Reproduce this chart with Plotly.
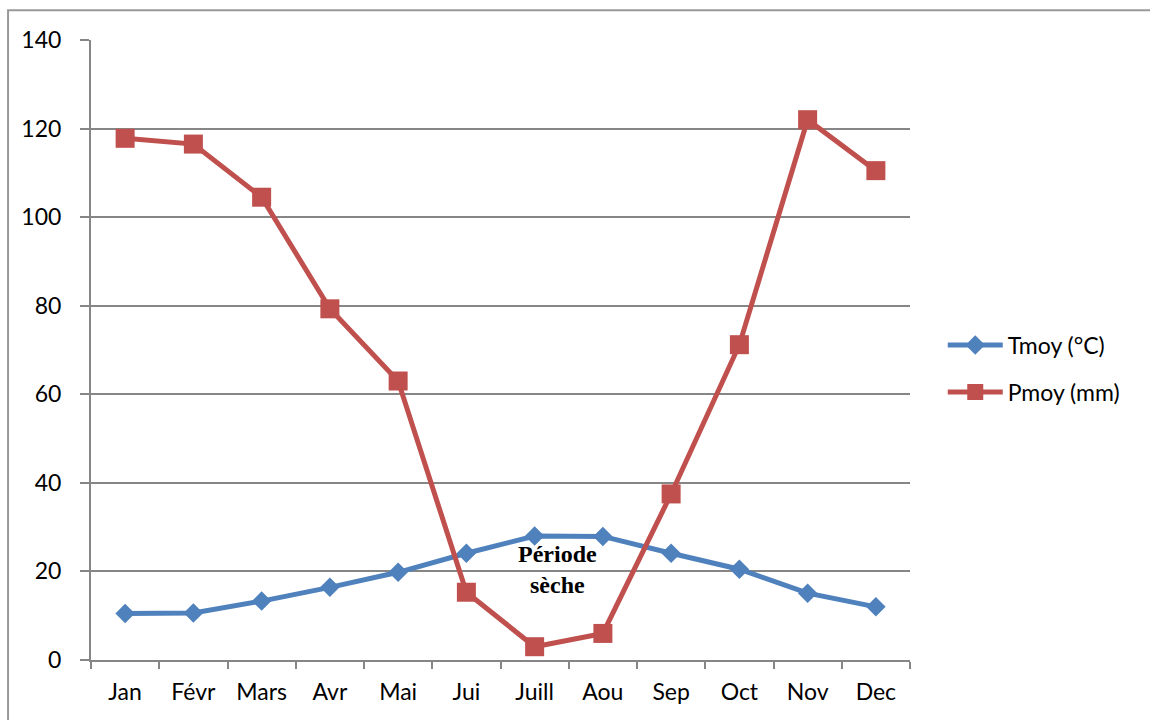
import plotly.graph_objects as go

months = ["Jan", "Févr", "Mars", "Avr", "Mai", "Jui", "Juill", "Aou", "Sep", "Oct", "Nov", "Dec"]
tmoy = [10.5, 10.6, 13.3, 16.4, 19.8, 24.1, 28.0, 27.9, 24.1, 20.5, 15.1, 12.0]
pmoy = [117.8, 116.5, 104.5, 79.3, 63.0, 15.3, 3.0, 6.0, 37.5, 71.2, 122.0, 110.5]
y_ticks = [0, 20, 40, 60, 80, 100, 120, 140]

BLUE = "#4F81BD"
RED = "#C0504D"
GRID = "#868686"
LABEL_FONT = dict(family="Lato, Carlito, Liberation Sans, sans-serif", size=23, color="#000000")

fig = go.Figure()
fig.add_trace(go.Scatter(
    x=months, y=tmoy, name="Tmoy (°C)", mode="lines+markers", legendgroup="t",
    line=dict(color=BLUE, width=5),
    marker=dict(symbol="diamond", size=15, color=BLUE),
))
fig.add_trace(go.Scatter(
    x=months, y=pmoy, name="Pmoy (mm)", mode="lines+markers", legendgroup="p",
    line=dict(color=RED, width=5),
    marker=dict(symbol="square", size=19, color=RED),
))

fig.add_annotation(
    x=6.33, y=20.5, xref="x", yref="y",
    text="<b>Période<br>sèche</b>", showarrow=False,
    font=dict(family="Liberation Serif, Times New Roman, serif", size=24, color="#000000"),
    align="center",
)

# outer frame of the chart area
fig.add_shape(
    type="rect", xref="paper", yref="paper",
    x0=-0.1013, x1=1.31, y0=-0.12, y1=1.048,
    line=dict(color="#999999", width=2), fillcolor="rgba(0,0,0,0)", layer="below",
)

fig.update_layout(
    width=1150, height=720,
    margin=dict(l=91, r=240, t=40, b=60),
    paper_bgcolor="white", plot_bgcolor="white",
    showlegend=True,
    legend=dict(
        x=1.04, y=0.47, xanchor="left", yanchor="middle",
        font=LABEL_FONT, itemwidth=55, tracegroupgap=14,
        bgcolor="rgba(0,0,0,0)",
    ),
    xaxis=dict(
        type="category", range=[-0.5, 11.5],
        tickson="boundaries", ticks="outside", ticklen=7, tickwidth=2, tickcolor=GRID,
        showline=True, linecolor=GRID, linewidth=2,
        showgrid=False, tickfont=LABEL_FONT, ticklabelstandoff=10,
    ),
    yaxis=dict(
        range=[0, 140], tickvals=y_ticks,
        ticks="outside", ticklen=9, tickwidth=1.5, tickcolor=GRID,
        showline=True, linecolor=GRID, linewidth=2,
        showgrid=True, gridcolor=GRID, gridwidth=1.5,
        zeroline=False, tickfont=LABEL_FONT, ticklabelstandoff=14,
    ),
)

fig.write_html("out.html")
